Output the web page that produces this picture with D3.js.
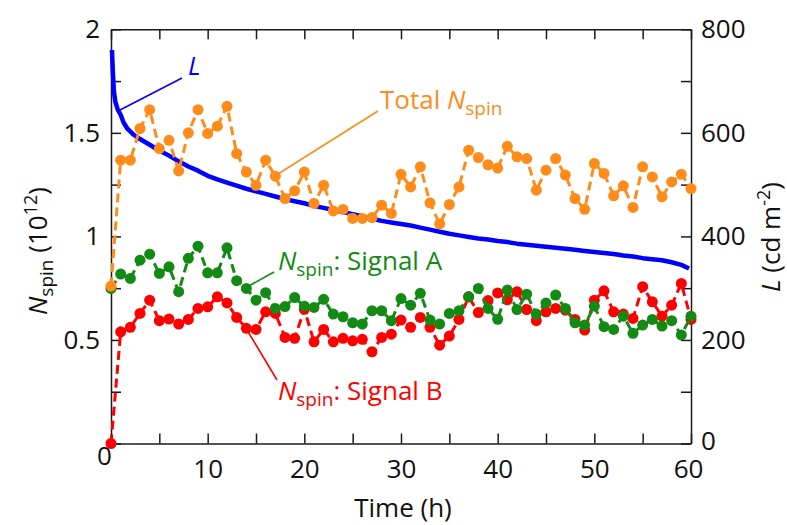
<!DOCTYPE html>
<html><head><meta charset="utf-8">
<script src="https://cdn.jsdelivr.net/npm/d3@7"></script>
<style>
body{margin:0;background:#fff}
svg{display:block}
text{font-family:"Open Sans",sans-serif}
</style>
</head><body>
<svg id="c" width="787" height="525"></svg>
<script>
// ---------- data ----------
const hours = [0,1,2,3,4,5,6,7,8,9,10,11,12,13,14,15,16,17,18,19,20,21,22,23,24,25,26,27,28,29,30,
  31,32,33,34,35,36,37,38,39,40,41,42,43,44,45,46,47,48,49,50,51,52,53,54,55,56,57,58,59,60];
const totalN = [0.76,1.368,1.368,1.521,1.612,1.424,1.464,1.316,1.50,1.612,1.497,1.532,1.628,1.40,1.311,1.247,
  1.368,1.291,1.183,1.22,1.311,1.159,1.247,1.123,1.13,1.087,1.087,1.091,1.151,1.111,1.30,1.239,1.336,1.162,1.06,
  1.154,1.239,1.416,1.381,1.346,1.33,1.435,1.384,1.376,1.223,1.32,1.376,1.296,1.183,1.131,1.352,1.304,1.196,1.244,
  1.14,1.336,1.287,1.191,1.263,1.30,1.231];
const signalA = [0.749,0.818,0.797,0.885,0.914,0.821,0.853,0.733,0.894,0.953,0.824,0.824,0.945,0.786,0.749,0.692,
  0.728,0.652,0.661,0.705,0.663,0.657,0.696,0.625,0.612,0.583,0.577,0.641,0.641,0.593,0.70,0.668,0.725,0.596,0.577,
  0.628,0.641,0.708,0.749,0.652,0.600,0.741,0.647,0.721,0.625,0.679,0.717,0.652,0.583,0.572,0.663,0.564,0.551,0.615,
  0.532,0.572,0.599,0.567,0.593,0.524,0.615];
const signalB = [0,0.539,0.561,0.628,0.692,0.593,0.601,0.577,0.599,0.652,0.66,0.708,0.679,0.609,0.556,0.551,
  0.636,0.628,0.512,0.508,0.648,0.491,0.551,0.491,0.508,0.496,0.503,0.443,0.512,0.528,0.596,0.561,0.609,0.561,0.475,
  0.519,0.599,0.708,0.632,0.690,0.727,0.694,0.733,0.647,0.593,0.636,0.652,0.644,0.599,0.548,0.692,0.737,0.636,0.625,
  0.604,0.757,0.684,0.615,0.668,0.773,0.599];
const lumTime = [0.1,0.2,0.3,0.45,0.7,1,1.3,1.7,2.3,3,4,5,6,7,8,9,10,11,12,13,14,15,16,17,18,19,20,21,22,23,24,25,
  26,27,28,29,30,31,32,33,34,35,36,37,38,39,40,41,42,43,44,45,46,47,48,49,50,51,52,53,54,55,56,57,58,59,59.8];
const lumValue = [760,715,680,660,645,635,620,608,597,588,577,566,556,545,535,527,517,510,504,498,492,487,482,477,
  472,468,464,459,455,451,447,443,439,434,430,427,424,421,417,413,409,405,402,399,396,394,391,389,386,384,382,380,
  378,376,374,372,370,368,366,363,361,358,356,354,350,345,338];
const xTicks = [0,5,10,15,20,25,30,35,40,45,50,55,60];
const xLabels = [0,10,20,30,40,50,60];
const nTicks = [0,0.25,0.5,0.75,1,1.25,1.5,1.75,2];
const nLabels = [0.5,1,1.5,2];
const lTicks = [0,100,200,300,400,500,600,700,800];
const lLabels = [0,200,400,600,800];

// ---------- style ----------
const C_L = "#0000ff", C_T = "#ff8c1a", C_A = "#138a13", C_B = "#ff0000";
const FS = 26;
const svg = d3.select("#c");
const X0 = 111, X1 = 691, Y0 = 443.5, Y1 = 29.3;
const x = d3.scaleLinear().domain([0,60]).range([X0,X1]);
const yN = d3.scaleLinear().domain([0,2]).range([Y0,Y1]);
const yL = d3.scaleLinear().domain([0,800]).range([Y0,Y1]);

function styleAxis(g){
  g.selectAll("path").attr("stroke","#1a1a1a").attr("stroke-width",1.5);
  g.selectAll("line").attr("stroke","#1a1a1a").attr("stroke-width",1.5);
  g.selectAll("text").attr("font-size",FS).attr("fill","#111").attr("font-family",'"Open Sans",sans-serif');
}

// axes
const gB = svg.append("g").attr("transform",`translate(0,${Y0})`)
  .call(d3.axisBottom(x).tickValues(xTicks).tickSize(-10).tickSizeOuter(0).tickPadding(16)
    .tickFormat(d => xLabels.includes(d) ? d : ""));
styleAxis(gB);
gB.selectAll(".tick text").filter(d => d === 0).attr("transform","translate(-7,-12.5)");
gB.selectAll(".tick text").filter(d => d === 60).attr("transform","translate(-3,0)");
const gT = svg.append("g").attr("transform",`translate(0,${Y1})`)
  .call(d3.axisTop(x).tickValues(xTicks).tickSize(-10).tickSizeOuter(0).tickFormat(""));
styleAxis(gT);
const gLft = svg.append("g").attr("transform",`translate(${X0},0)`)
  .call(d3.axisLeft(yN).tickValues(nTicks).tickSize(-10).tickSizeOuter(0).tickPadding(11)
    .tickFormat(d => nLabels.includes(d) ? d : ""));
styleAxis(gLft);
const gR = svg.append("g").attr("transform",`translate(${X1},0)`)
  .call(d3.axisRight(yL).tickValues(lTicks).tickSize(-10).tickSizeOuter(0).tickPadding(10)
    .tickFormat(d => lLabels.includes(d) ? d : ""));
styleAxis(gR);
gR.selectAll(".tick text").filter(d => d === 0).attr("transform","translate(0,-2)");

// luminance line
const lumData = lumTime.map((t,i)=>[t,lumValue[i]]);
svg.append("path").datum(lumData)
  .attr("d", d3.line().x(d=>x(d[0])).y(d=>yL(d[1])))
  .attr("fill","none").attr("stroke",C_L).attr("stroke-width",4.5).attr("stroke-linejoin","round");

// dashed series
function series(vals,color){
  const data = hours.map((h,i)=>[h,vals[i]]);
  svg.append("path").datum(data)
    .attr("d", d3.line().x(d=>x(d[0])).y(d=>yN(d[1])))
    .attr("fill","none").attr("stroke",color).attr("stroke-width",3).attr("stroke-dasharray","9,5");
  svg.append("g").selectAll("circle").data(data).join("circle")
    .attr("cx",d=>x(d[0])).attr("cy",d=>yN(d[1])).attr("r",5.5).attr("fill",color);
}
series(signalB, C_B);
series(signalA, C_A);
series(totalN, C_T);

// annotations
function leader(x1,y1,x2,y2,color){
  svg.append("line").attr("x1",x1).attr("y1",y1).attr("x2",x2).attr("y2",y2)
    .attr("stroke",color).attr("stroke-width",1.6);
}
leader(120,110,182,78,C_L);
leader(278,174,378,111,C_T);
leader(247,287,274,272,C_A);
leader(247,330,277,380,C_B);

function nspin(t){
  t.append("tspan").attr("font-style","italic").text("N");
  t.append("tspan").attr("font-size",19).attr("dy",6).text("spin");
}
svg.append("text").attr("x",188).attr("y",75).attr("font-size",FS).attr("fill",C_L)
  .attr("font-style","italic").text("L");
{
  const t = svg.append("text").attr("x",380).attr("y",109).attr("font-size",FS).attr("fill",C_T);
  t.append("tspan").text("Total ");
  nspin(t);
}
{
  const t = svg.append("text").attr("x",278).attr("y",270).attr("font-size",FS).attr("fill",C_A);
  nspin(t);
  t.append("tspan").attr("dy",-6).text(": Signal A");
}
{
  const t = svg.append("text").attr("x",278).attr("y",400).attr("font-size",FS).attr("fill",C_B);
  nspin(t);
  t.append("tspan").attr("dy",-6).text(": Signal B");
}

// axis titles
{
  const t = svg.append("text").attr("text-anchor","middle").attr("font-size",FS).attr("fill","#111")
    .attr("transform","translate(47,251) rotate(-90)");
  nspin(t);
  t.append("tspan").attr("dy",-6).text(" (10");
  t.append("tspan").attr("font-size",18).attr("dy",-10).text("12");
  t.append("tspan").attr("dy",10).text(")");
}
{
  const t = svg.append("text").attr("text-anchor","middle").attr("font-size",FS).attr("fill","#111")
    .attr("transform","translate(780,237) rotate(-90)");
  t.append("tspan").attr("font-style","italic").text("L");
  t.append("tspan").text(" (cd m");
  t.append("tspan").attr("font-size",18).attr("dy",-10).text("-2");
  t.append("tspan").attr("dy",10).text(")");
}
svg.append("text").attr("x",(X0+X1)/2+2).attr("y",517).attr("text-anchor","middle")
  .attr("font-size",FS).attr("fill","#111").text("Time (h)");
</script>
</body></html>
